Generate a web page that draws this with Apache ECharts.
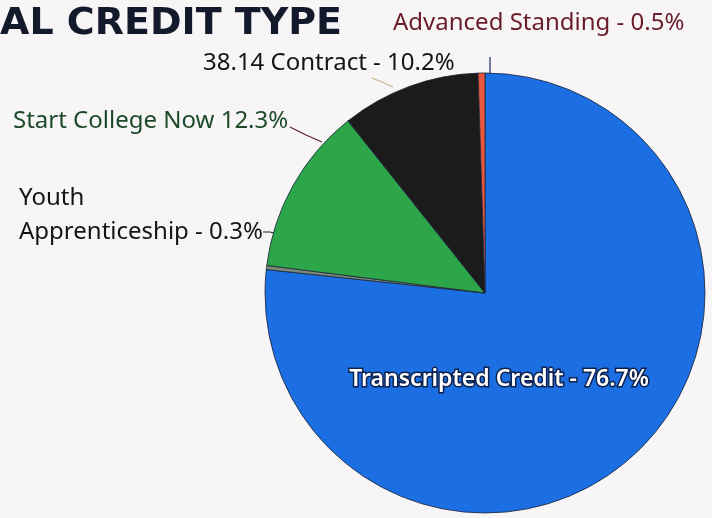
<!DOCTYPE html>
<html><head><meta charset="utf-8">
<script src="https://cdn.jsdelivr.net/npm/echarts@6/dist/echarts.min.js"></script>
<style>html,body{margin:0;padding:0;background:#f7f5f6;}#c{width:712px;height:518px;}</style>
</head><body><div id="c"></div>
<script>
const titleText = "AL CREDIT TYPE";
const categories = ["Transcripted Credit", "Youth Apprenticeship", "Start College Now", "38.14 Contract", "Advanced Standing"];
const values = [76.7, 0.3, 12.3, 10.2, 0.5];
const labelTexts = ["Transcripted Credit - 76.7%", "Youth\nApprenticeship - 0.3%", "Start College Now 12.3%", "38.14 Contract - 10.2%", "Advanced Standing - 0.5%"];

const colors = ["#1b6fe2", "#7a8a7a", "#2da64a", "#1b1b1b", "#e8573e"];
const labelColors = ["#ffffff", "#141414", "#1e4a2a", "#141414", "#6a1c2a"];
const lineColors = [null, "#222222", "#5a1f30", "#c9b48c", "#1b2a66"];

const labelPos = [
  {x: 499, y: 379, align: 'center', pts: null},
  {x: 19, y: 215, align: 'left', pts: [[263, 232], [270, 232], [278, 234]]},
  {x: 13, y: 121, align: 'left', pts: [[290, 127], [306, 135], [322, 142]]},
  {x: 203, y: 63, align: 'left', pts: [[372, 78], [382, 82], [393, 87]]},
  {x: 393, y: 23, align: 'left', pts: [[490, 57], [490, 64], [490, 73]]}
];

const chart = echarts.init(document.getElementById('c'), null, {renderer: 'canvas'});
chart.setOption({
  backgroundColor: '#f7f5f6',
  animation: false,
  title: {
    text: titleText, left: 0, top: 5, padding: 0,
    textStyle: {fontFamily: 'DejaVu Sans', fontWeight: 'bold', fontSize: 38, color: '#121a2c'}
  },
  series: [{
    type: 'pie',
    center: [485, 293],
    radius: 220,
    startAngle: 90,
    clockwise: true,
    avoidLabelOverlap: false,
    itemStyle: {borderColor: '#1c2438', borderWidth: 0.8},
    label: {fontFamily: 'Noto Sans', fontSize: 24},
    labelLine: {show: true, length: 10, length2: 10, lineStyle: {width: 1.2}},
    labelLayout: function (p) {
      const L = labelPos[p.dataIndex];
      const r = {x: L.x, y: L.y, align: L.align, verticalAlign: 'middle'};
      if (L.pts) r.labelLinePoints = L.pts;
      return r;
    },
    data: categories.map((name, i) => ({
      name: name,
      value: values[i],
      itemStyle: {color: colors[i]},
      label: i === 0 ? {
        show: true, position: 'inside', formatter: labelTexts[i],
        color: '#ffffff', fontSize: 23, fontWeight: 600,
        fontFamily: 'Noto Sans',
        textBorderColor: '#0e1f4a', textBorderWidth: 3
      } : {
        show: true, position: 'outside', formatter: labelTexts[i],
        color: labelColors[i], lineHeight: 34
      },
      labelLine: i === 0 ? {show: false} : {show: true, lineStyle: {color: lineColors[i]}}
    }))
  }]
});
</script></body></html>
